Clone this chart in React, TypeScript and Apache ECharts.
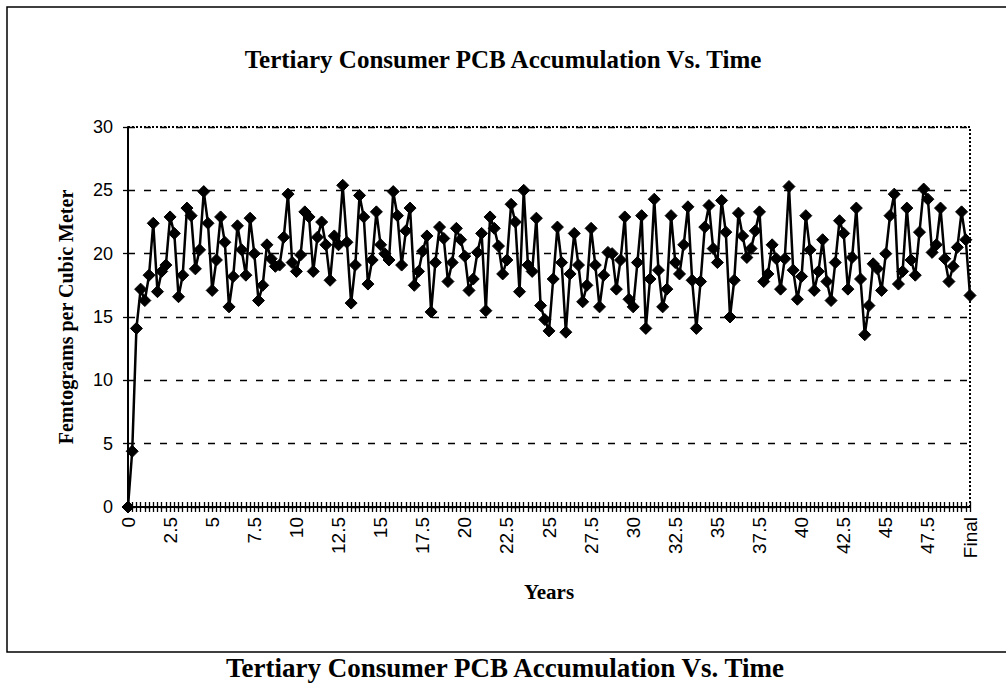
import React, { useEffect, useRef } from "react";
import * as echarts from "echarts";

const TITLE = "Tertiary Consumer PCB Accumulation Vs. Time";
const Y_NAME = "Femtograms per Cubic Meter";
const X_NAME = "Years";
const FINAL_LABEL = "Final";
const STEP_YEARS = 0.25;
const QUARTER_COUNT = 200;

const startValues = [0, 4.4];
const segA = [14.1, 17.2, 16.3, 18.3, 22.4, 17.0, 18.6, 19.1, 22.9, 21.6, 16.6, 18.3, 23.6, 23.0, 18.8, 20.3, 24.9, 22.4, 17.1, 19.5, 22.9, 20.9, 15.8];
const segB = [18.2, 22.2, 20.3, 18.3, 22.8, 20.0, 16.3, 17.5, 20.7, 19.6, 19.0, 19.1, 21.3, 24.7, 19.3, 18.6, 19.9, 23.3, 22.9, 18.6, 21.3, 22.5, 20.7, 17.9, 21.4];
const segC = [20.7, 25.4, 20.9, 16.1, 19.1, 24.6, 22.9, 17.6, 19.5, 23.3, 20.7, 20.0, 19.5, 24.9, 23.0, 19.1, 21.8, 23.6, 17.5, 18.6, 20.2, 21.4, 15.4, 19.3, 22.1];
const segD = [21.2, 17.8, 19.3, 22.0, 21.1, 19.8, 17.1, 18.0, 20.1, 21.6, 15.5, 22.9, 22.0, 20.6, 18.4, 19.5, 23.9, 22.5, 17.0, 25.0, 19.1, 18.6, 22.8, 15.9];
const segE = [14.8, 13.9, 18.0, 22.1, 19.3, 13.8, 18.4, 21.6, 19.1, 16.2, 17.5, 22.0, 19.1, 15.8, 18.3, 20.1, 20.0, 17.2, 19.5, 22.9, 16.4, 15.8, 19.3, 23.0, 14.1];
const segF = [18.0, 24.3, 18.7, 15.8, 17.2, 23.0, 19.3, 18.4, 20.7, 23.7, 17.9, 14.1, 17.8, 22.1, 23.8, 20.4, 19.3, 24.2, 21.7, 15.0, 17.9, 23.2, 21.4, 19.7];
const segG = [20.4, 21.8, 23.3, 17.8, 18.4, 20.7, 19.6, 17.2, 19.6, 25.3, 18.7, 16.4, 18.2, 23.0, 20.3, 17.1, 18.6, 21.1, 17.8, 16.3, 19.3, 22.6, 21.6, 17.2, 19.7, 23.6];
const segH = [18.0, 13.6, 15.9, 19.2, 18.8, 17.1, 20.0, 23.0, 24.7, 17.6, 18.6, 23.6, 19.5, 18.3, 21.7, 25.1, 24.3, 20.1, 20.7, 23.6, 19.6, 17.8, 19.0, 20.5, 23.3, 21.1, 16.7];

const values = [...startValues, ...segA, ...segB, ...segC, ...segD, ...segE, ...segF, ...segG, ...segH];

const categories: string[] = [];
for (let i = 0; i < QUARTER_COUNT; i++) categories.push(String(i * STEP_YEARS));
categories.push(FINAL_LABEL);

const SERIF = "'Liberation Serif', 'Times New Roman', serif";
const SANS = "'Liberation Sans', Arial, sans-serif";

export default function App() {
  const ref = useRef<HTMLDivElement>(null);
  useEffect(() => {
    if (!ref.current) return;
    const chart = echarts.init(ref.current, null, { renderer: "svg" });
    chart.setOption({
      animation: false,
      backgroundColor: "#ffffff",
      title: {
        text: TITLE,
        left: "center",
        top: 42,
        textStyle: { fontFamily: SERIF, fontWeight: "bold", fontSize: 25, color: "#000" },
      },
      grid: {
        left: 128,
        top: 127,
        width: 842,
        height: 380,
        show: true,
        borderColor: "#000",
        borderWidth: 2,
        borderType: "dotted",
        backgroundColor: "transparent",
      },
      xAxis: [
        {
          type: "category",
          data: categories,
          boundaryGap: false,
          name: X_NAME,
          nameLocation: "middle",
          nameGap: 74,
          nameTextStyle: { fontFamily: SERIF, fontWeight: "bold", fontSize: 21, color: "#000" },
          axisLine: { show: true, lineStyle: { color: "#000", width: 2 } },
          axisTick: { show: true, interval: 0, length: 5, inside: false, lineStyle: { color: "#000", width: 1.3 } },
          axisLabel: {
            interval: 9,
            rotate: 90,
            margin: 10,
            fontFamily: SANS,
            fontSize: 19,
            color: "#000",
          },
          splitLine: { show: false },
        },
        {
          type: "category",
          data: categories,
          boundaryGap: false,
          position: "bottom",
          axisLine: { show: false },
          axisTick: { show: true, interval: 0, length: 5, inside: true, lineStyle: { color: "#000", width: 1.3 } },
          axisLabel: { show: false },
          splitLine: { show: false },
        },
      ],
      yAxis: {
        type: "value",
        min: 0,
        max: 30,
        interval: 5,
        name: Y_NAME,
        nameLocation: "middle",
        nameGap: 52,
        nameTextStyle: { fontFamily: SERIF, fontWeight: "bold", fontSize: 20, color: "#000" },
        axisLine: { show: true, lineStyle: { color: "#000", width: 2 } },
        axisTick: { show: true, length: 5, lineStyle: { color: "#000", width: 1.3 } },
        axisLabel: { fontFamily: SANS, fontSize: 18, color: "#000", margin: 15 },
        splitLine: { show: true, lineStyle: { color: "#000", width: 1.3, type: [7, 9] } },
      },
      series: [
        {
          type: "line",
          data: values,
          xAxisIndex: 0,
          symbol: "diamond",
          symbolSize: 12,
          showAllSymbol: true,
          lineStyle: { color: "#000", width: 2.5 },
          itemStyle: { color: "#000", borderColor: "#000" },
          z: 5,
        },
      ],
      graphic: [
        {
          type: "rect",
          shape: { x: 7, y: 7, width: 1010, height: 645 },
          style: { fill: "transparent", stroke: "#000", lineWidth: 1.5 },
          silent: true,
        },
        {
          type: "text",
          x: 505,
          y: 668,
          style: {
            text: TITLE,
            fontFamily: SERIF,
            fontWeight: "bold",
            fontSize: 27,
            fill: "#000",
            align: "center",
            verticalAlign: "middle",
          },
        },
      ],
    });
    return () => chart.dispose();
  }, []);
  return <div ref={ref} style={{ position: "fixed", left: 0, top: 0, width: 1006, height: 687 }} />;
}
